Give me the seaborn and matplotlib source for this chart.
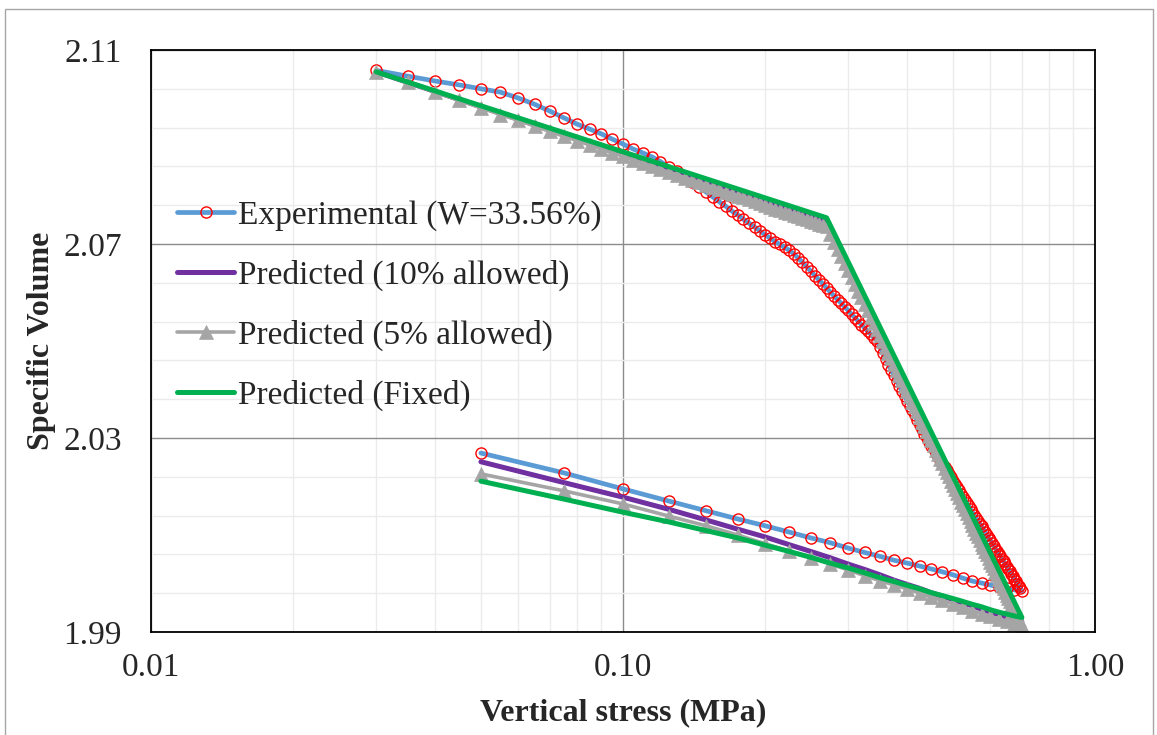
import numpy as np
import matplotlib
matplotlib.use("Agg")
import matplotlib.pyplot as plt
from matplotlib.patches import Rectangle
from matplotlib.ticker import FixedLocator, FixedFormatter, NullFormatter
import seaborn as sns

# ---------------- data ----------------
# loading stages (MPa)
load_stress = [
    0.030, 0.035, 0.040, 0.045, 0.050, 0.055, 0.060, 0.065, 0.070, 0.075,
    0.080, 0.085, 0.090, 0.095, 0.100, 0.105, 0.110, 0.115, 0.120, 0.125,
    0.130, 0.135, 0.140, 0.145, 0.150, 0.155, 0.160, 0.165, 0.170, 0.175,
    0.180, 0.185, 0.190, 0.195, 0.200, 0.205, 0.210, 0.215, 0.220, 0.225,
    0.230, 0.235, 0.240, 0.245, 0.250, 0.255, 0.260, 0.265, 0.270, 0.275,
    0.280, 0.285, 0.290, 0.295, 0.300, 0.305, 0.310, 0.315, 0.320, 0.325,
    0.330, 0.335, 0.340, 0.345, 0.350, 0.355, 0.360, 0.365, 0.370, 0.375,
    0.380, 0.385, 0.390, 0.395, 0.400, 0.405, 0.410, 0.415, 0.420, 0.425,
    0.430, 0.435, 0.440, 0.445, 0.450, 0.455, 0.460, 0.465, 0.470, 0.475,
    0.480, 0.485, 0.490, 0.495, 0.500, 0.505, 0.510, 0.515, 0.520, 0.525,
    0.530, 0.535, 0.540, 0.545, 0.550, 0.555, 0.560, 0.565, 0.570, 0.575,
    0.580, 0.585, 0.590, 0.595, 0.600, 0.605, 0.610, 0.615, 0.620, 0.625,
    0.630, 0.635, 0.640, 0.645, 0.650, 0.655, 0.660, 0.665, 0.670, 0.675,
    0.680, 0.685, 0.690, 0.695, 0.700,
]
# unloading stages (MPa)
unload_stress = [
    0.675, 0.650, 0.625, 0.600, 0.575, 0.550, 0.525, 0.500, 0.475, 0.450,
    0.425, 0.400, 0.375, 0.350, 0.325, 0.300, 0.275, 0.250, 0.225, 0.200,
    0.175, 0.150, 0.125, 0.100, 0.075, 0.050,
]

exp_load_v = [
    2.1058, 2.1046, 2.1036, 2.1028, 2.1020, 2.1013, 2.1001, 2.0988, 2.0974, 2.0960,
    2.0947, 2.0937, 2.0927, 2.0916, 2.0906, 2.0896, 2.0888, 2.0880, 2.0870, 2.0859,
    2.0850, 2.0839, 2.0828, 2.0817, 2.0807, 2.0797, 2.0787, 2.0778, 2.0768, 2.0760,
    2.0751, 2.0743, 2.0735, 2.0727, 2.0719, 2.0712, 2.0705, 2.0699, 2.0693, 2.0687,
    2.0680, 2.0671, 2.0662, 2.0653, 2.0644, 2.0635, 2.0626, 2.0618, 2.0609, 2.0601,
    2.0593, 2.0585, 2.0578, 2.0570, 2.0563, 2.0555, 2.0548, 2.0541, 2.0534, 2.0527,
    2.0520, 2.0514, 2.0507, 2.0501, 2.0488, 2.0476, 2.0463, 2.0451, 2.0440, 2.0429,
    2.0418, 2.0407, 2.0397, 2.0387, 2.0377, 2.0367, 2.0357, 2.0347, 2.0337, 2.0327,
    2.0318, 2.0308, 2.0300, 2.0292, 2.0284, 2.0277, 2.0269, 2.0262, 2.0255, 2.0247,
    2.0240, 2.0233, 2.0226, 2.0219, 2.0212, 2.0205, 2.0198, 2.0192, 2.0185, 2.0179,
    2.0172, 2.0166, 2.0160, 2.0153, 2.0147, 2.0141, 2.0135, 2.0129, 2.0123, 2.0118,
    2.0112, 2.0106, 2.0100, 2.0094, 2.0089, 2.0083, 2.0078, 2.0072, 2.0067, 2.0061,
    2.0056, 2.0051, 2.0046, 2.0040, 2.0035, 2.0030, 2.0025, 2.0020, 2.0015, 2.0010,
    2.0005, 2.0000, 1.9995, 1.9990, 1.9985,
]
exp_unload_v = [
    1.9987, 1.9990, 1.9993, 1.9997, 2.0001, 2.0005, 2.0011, 2.0018, 2.0024, 2.0030,
    2.0036, 2.0042, 2.0048, 2.0056, 2.0064, 2.0073, 2.0084, 2.0094, 2.0106, 2.0119,
    2.0133, 2.0150, 2.0170, 2.0195, 2.0228, 2.0269,
]

p5_load_v = [
    2.1055, 2.1033, 2.1013, 2.0996, 2.0981, 2.0967, 2.0955, 2.0943, 2.0932, 2.0922,
    2.0913, 2.0904, 2.0896, 2.0888, 2.0881, 2.0874, 2.0867, 2.0861, 2.0854, 2.0848,
    2.0843, 2.0837, 2.0832, 2.0827, 2.0822, 2.0817, 2.0813, 2.0808, 2.0804, 2.0800,
    2.0796, 2.0792, 2.0788, 2.0784, 2.0780, 2.0777, 2.0773, 2.0770, 2.0767, 2.0763,
    2.0760, 2.0757, 2.0754, 2.0751, 2.0748, 2.0745, 2.0742, 2.0740, 2.0737, 2.0721,
    2.0705, 2.0690, 2.0675, 2.0660, 2.0646, 2.0632, 2.0617, 2.0604, 2.0590, 2.0576,
    2.0563, 2.0550, 2.0537, 2.0525, 2.0512, 2.0500, 2.0488, 2.0476, 2.0464, 2.0453,
    2.0441, 2.0430, 2.0419, 2.0408, 2.0397, 2.0386, 2.0375, 2.0365, 2.0355, 2.0344,
    2.0334, 2.0324, 2.0314, 2.0304, 2.0295, 2.0285, 2.0276, 2.0266, 2.0257, 2.0248,
    2.0239, 2.0230, 2.0221, 2.0212, 2.0203, 2.0195, 2.0186, 2.0178, 2.0169, 2.0161,
    2.0153, 2.0145, 2.0137, 2.0129, 2.0121, 2.0113, 2.0105, 2.0098, 2.0090, 2.0082,
    2.0075, 2.0067, 2.0060, 2.0053, 2.0045, 2.0038, 2.0031, 2.0024, 2.0017, 2.0010,
    2.0003, 1.9996, 1.9990, 1.9983, 1.9976, 1.9970, 1.9963, 1.9956, 1.9950, 1.9944,
    1.9937, 1.9931, 1.9925, 1.9918, 1.9912,
]
p5_unload_v = [
    1.9916, 1.9922, 1.9927, 1.9932, 1.9938, 1.9944, 1.9951, 1.9958, 1.9965, 1.9972,
    1.9980, 1.9989, 1.9997, 2.0006, 2.0016, 2.0028, 2.0040, 2.0053, 2.0067, 2.0082,
    2.0100, 2.0119, 2.0139, 2.0164, 2.0191, 2.0226,
]

# bilinear predictions: start, yield point, end of loading
pred_load_stress = [0.03, 0.27, 0.70]
p10_load_v = [2.1055, 2.0745, 1.9921]
p10_unload_v = [
    1.9926, 1.9931, 1.9936, 1.9941, 1.9947, 1.9954, 1.9960, 1.9967, 1.9974, 1.9981,
    1.9990, 1.9998, 2.0007, 2.0018, 2.0029, 2.0040, 2.0053, 2.0066, 2.0080, 2.0096,
    2.0112, 2.0131, 2.0153, 2.0178, 2.0208, 2.0251,
]
fixed_load_v = [2.1055, 2.0754, 1.9930]
fixed_unload_v = [
    1.9933, 1.9937, 1.9941, 1.9946, 1.9952, 1.9957, 1.9963, 1.9969, 1.9975, 1.9981,
    1.9989, 1.9996, 2.0004, 2.0012, 2.0022, 2.0032, 2.0042, 2.0054, 2.0066, 2.0079,
    2.0094, 2.0109, 2.0127, 2.0147, 2.0174, 2.0211,
]

labels = [
    "Experimental (W=33.56%)",
    "Predicted (10% allowed)",
    "Predicted (5% allowed)",
    "Predicted (Fixed)",
]
x_ticks = [0.01, 0.1, 1.0]
x_tick_labels = ["0.01", "0.10", "1.00"]
y_ticks = [1.99, 2.03, 2.07, 2.11]
y_tick_labels = ["1.99", "2.03", "2.07", "2.11"]

# ---------------- style ----------------
sns.set_style("white")
plt.rcParams["font.family"] = ["Liberation Serif", "DejaVu Serif"]

W, H = 1157, 735
fig = plt.figure(figsize=(W / 100, H / 100), dpi=100)
ax = fig.add_axes([151 / W, 1 - 632 / H, (1095 - 151) / W, (632 - 50) / H])

blue, red, purple, grey, green = "#5B9BD5", "#FF0000", "#7030A0", "#A5A5A5", "#00B050"

sns.lineplot(x=np.array(load_stress + unload_stress),
             y=np.array(exp_load_v + exp_unload_v),
             sort=False, estimator=None, ax=ax, color=blue, linewidth=3.4,
             marker="o", markersize=8.0, markerfacecolor="none",
             markeredgecolor=red, markeredgewidth=1.0, label=labels[0])
sns.lineplot(x=np.array(pred_load_stress + unload_stress),
             y=np.array(p10_load_v + p10_unload_v),
             sort=False, estimator=None, ax=ax, color=purple, linewidth=3.6,
             label=labels[1])
sns.lineplot(x=np.array(load_stress + unload_stress),
             y=np.array(p5_load_v + p5_unload_v),
             sort=False, estimator=None, ax=ax, color=grey, linewidth=2.6,
             marker="^", markersize=9.5, markerfacecolor=grey,
             markeredgecolor=grey, markeredgewidth=0.5, label=labels[2])
sns.lineplot(x=np.array(pred_load_stress + unload_stress),
             y=np.array(fixed_load_v + fixed_unload_v),
             sort=False, estimator=None, ax=ax, color=green, linewidth=3.6,
             label=labels[3])

# ---------------- axes ----------------
ax.set_xscale("log")
ax.set_xlim(0.01, 1.0)
ax.set_ylim(1.99, 2.11)

ax.xaxis.set_major_locator(FixedLocator(x_ticks))
ax.xaxis.set_major_formatter(FixedFormatter(x_tick_labels))
minor_x = [m * d for d in (0.01, 0.1) for m in range(2, 10)]
ax.xaxis.set_minor_locator(FixedLocator(minor_x))
ax.xaxis.set_minor_formatter(NullFormatter())

ax.yaxis.set_major_locator(FixedLocator(y_ticks))
ax.yaxis.set_major_formatter(FixedFormatter(y_tick_labels))
ax.yaxis.set_minor_locator(FixedLocator([1.99 + 0.008 * k for k in range(16)]))

ax.set_axisbelow(True)
ax.grid(which="minor", color="#EBEBEB", linewidth=1.0)
ax.grid(which="major", color="#8C8C8C", linewidth=1.0)

for s in ax.spines.values():
    s.set_visible(True)
    s.set_color("black")
    s.set_linewidth(1.3)

ax.tick_params(which="both", length=0)
ax.tick_params(axis="y", labelsize=24, pad=21)
ax.tick_params(axis="x", labelsize=24, pad=15)

ax.set_xlabel("Vertical stress (MPa)", fontsize=23, fontweight="bold")
ax.set_ylabel("Specific Volume", fontsize=23, fontweight="bold")
ax.xaxis.label.set_va("center")
ax.yaxis.label.set_va("center")
ax.xaxis.set_label_coords(0.5, (632 - 713) / 582)
ax.yaxis.set_label_coords((42 - 151) / 944, 0.5)

leg = ax.legend(loc="upper left", bbox_to_anchor=(0.028, 0.742), frameon=False,
                fontsize=24, handlelength=1.7, handletextpad=0.12,
                labelspacing=0.86, borderaxespad=0, borderpad=0, numpoints=1)

# chart-area border
fig.add_artist(Rectangle((5 / W, -0.05), 1148 / W, 1 - 9 / H + 0.05,
                         transform=fig.transFigure, fill=False,
                         edgecolor="#A6A6A6", linewidth=1.0))

fig.savefig("out.png", dpi=100)
